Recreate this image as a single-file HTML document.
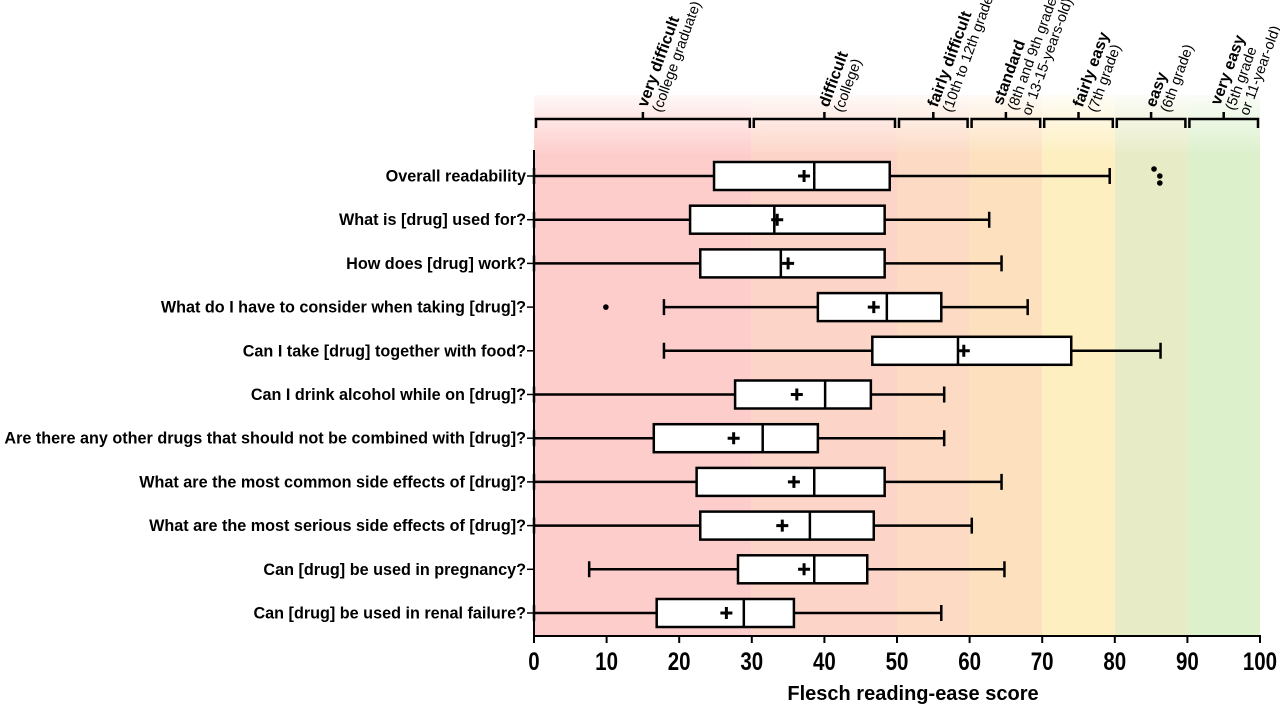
<!DOCTYPE html>
<html><head><meta charset="utf-8"><style>
body{margin:0;background:#fff;width:1280px;height:706px;overflow:hidden}
svg{display:block;font-family:"Liberation Sans",Arial,sans-serif}
</style></head><body>
<svg id="chart" width="1280" height="706" viewBox="0 0 1280 706">
<defs>
<linearGradient id="fade" x1="0" y1="0" x2="0" y2="1">
<stop offset="0" stop-color="#fff" stop-opacity="1"/>
<stop offset="1" stop-color="#fff" stop-opacity="0"/>
</linearGradient>
</defs>
<g id="bands"></g>
<rect x="530" y="85" width="735" height="70" fill="url(#fade)"/>
<g id="header"></g>
<g id="rows"></g>
<g id="axis"></g>
<text x="913" y="700" text-anchor="middle" font-size="20" font-weight="bold">Flesch reading-ease score</text>
</svg>
<script>
const categories=["Overall readability","What is [drug] used for?","How does [drug] work?","What do I have to consider when taking [drug]?","Can I take [drug] together with food?","Can I drink alcohol while on [drug]?","Are there any other drugs that should not be combined with [drug]?","What are the most common side effects of [drug]?","What are the most serious side effects of [drug]?","Can [drug] be used in pregnancy?","Can [drug] be used in renal failure?"];
const whiskerLow=[0,0,0,17.9,17.9,0,0,0,0,7.6,0];
const q1=[24.8,21.5,22.9,39.1,46.6,27.7,16.5,22.4,22.9,28.1,16.9];
const median=[38.6,33.1,34.0,48.6,58.4,40.1,31.5,38.6,38.0,38.6,28.9];
const q3=[49.0,48.3,48.3,56.1,74.0,46.4,39.1,48.3,46.8,45.9,35.8];
const whiskerHigh=[79.3,62.7,64.4,68.0,86.3,56.5,56.5,64.4,60.3,64.8,56.1];
const means=[37.2,33.5,35.0,46.8,59.2,36.2,27.5,35.8,34.2,37.2,26.5];
const outliers=[[85.4,86.2,86.2],[],[],[9.9],[],[],[],[],[],[],[]];
const outlierOffsets=[[-7,0,7],[],[],[0],[],[],[],[],[],[],[]];
const ticks=[0,10,20,30,40,50,60,70,80,90,100];
const bandStarts=[0,30,50,60,70,80,90];
const bandEnds=[30,50,60,70,80,90,100];
const bandColors=["#fdcdcb","#fdd5c8","#fcdac4","#fde1bf","#fdefc0","#e8ecc6","#dcf0cc"];
const bandBold=["very difficult","difficult","fairly difficult","standard","fairly easy","easy","very easy"];
const bandSub=[["(college graduate)"],["(college)"],["(10th to 12th grade)"],["(8th and 9th grade","or 13-15-years-old)"],["(7th grade)"],["(6th grade)"],["(5th grade","or 11-year-old)"]];

const NS="http://www.w3.org/2000/svg";
const X=v=>534+v*7.26;
const Y=i=>176+i*43.7;
function el(t,a,p){const e=document.createElementNS(NS,t);for(const k in a)e.setAttribute(k,a[k]);p.appendChild(e);return e;}
const bands=document.getElementById('bands'),header=document.getElementById('header'),rows=document.getElementById('rows'),axis=document.getElementById('axis');
const ln={stroke:"#000","stroke-width":2.5,fill:"none"};
bandStarts.forEach((s,i)=>{
 const r=el('rect',{x:X(s),y:95,width:X(bandEnds[i])-X(s),height:541,fill:bandColors[i]},bands);
 
 
 const x1=X(s)+2,x2=X(bandEnds[i])-2,xm=(X(s)+X(bandEnds[i]))/2;
 const b=el('path',Object.assign({d:`M${x1},128V119H${x2}V128M${xm},119V112`},ln),header);
 
 
 const n=bandSub[i].length;
 const t=el('text',{transform:`translate(${xm+6-n*2},108) rotate(-70)`,"font-size":14.5},header);
 
 
 const tb=el('tspan',{x:0,dy:-6*(n-1),"font-weight":"bold","font-size":16},t);tb.textContent=bandBold[i];
 bandSub[i].forEach((l,j)=>{const ts=el('tspan',{x:0,dy:15},t);ts.textContent=l;});
});
categories.forEach((c,i)=>{
 const y=Y(i);
 const g=el('g',{},rows);
 
 
 const lb=el('text',{x:526,y:y+5.5,"text-anchor":"end","font-size":16.2,"font-weight":"bold"},g);lb.textContent=c;
 
 
 el('line',{x1:527,x2:534,y1:y,y2:y,stroke:"#000","stroke-width":1.5},g);
 el('path',Object.assign({d:`M${X(whiskerLow[i])},${y}H${X(q1[i])}M${X(q3[i])},${y}H${X(whiskerHigh[i])}M${X(whiskerLow[i])},${y-8}v16M${X(whiskerHigh[i])},${y-8}v16`},ln),g);
 const bx=el('rect',{x:X(q1[i]),y:y-14,width:X(q3[i])-X(q1[i]),height:28,fill:"#fff",stroke:"#000","stroke-width":2.5},g);
 
 
 el('line',{x1:X(median[i]),x2:X(median[i]),y1:y-14,y2:y+14,stroke:"#000","stroke-width":2.5},g);
 el('path',{d:`M${X(means[i])-6},${y}h12M${X(means[i])},${y-6}v12`,stroke:"#000","stroke-width":3},g);
 outliers[i].forEach((o,j)=>{const d=el('circle',{cx:X(o),cy:y+outlierOffsets[i][j],r:2.8,fill:"#000"},g);
  
  });
});
el('line',{x1:534,x2:534,y1:150,y2:642,stroke:"#000","stroke-width":2},axis);
el('line',{x1:533,x2:1261,y1:636,y2:636,stroke:"#000","stroke-width":2},axis);
ticks.forEach(t=>{
 el('line',{x1:X(t),x2:X(t),y1:636,y2:643,stroke:"#000","stroke-width":2},axis);
 const tx=el('text',{x:X(t),y:670,"text-anchor":"middle","font-size":25,"font-weight":"bold",transform:`translate(${X(t)},0) scale(0.82,1) translate(${-X(t)},0)`},axis);
 tx.textContent=t;
 
 
});
</script>
</body></html>
